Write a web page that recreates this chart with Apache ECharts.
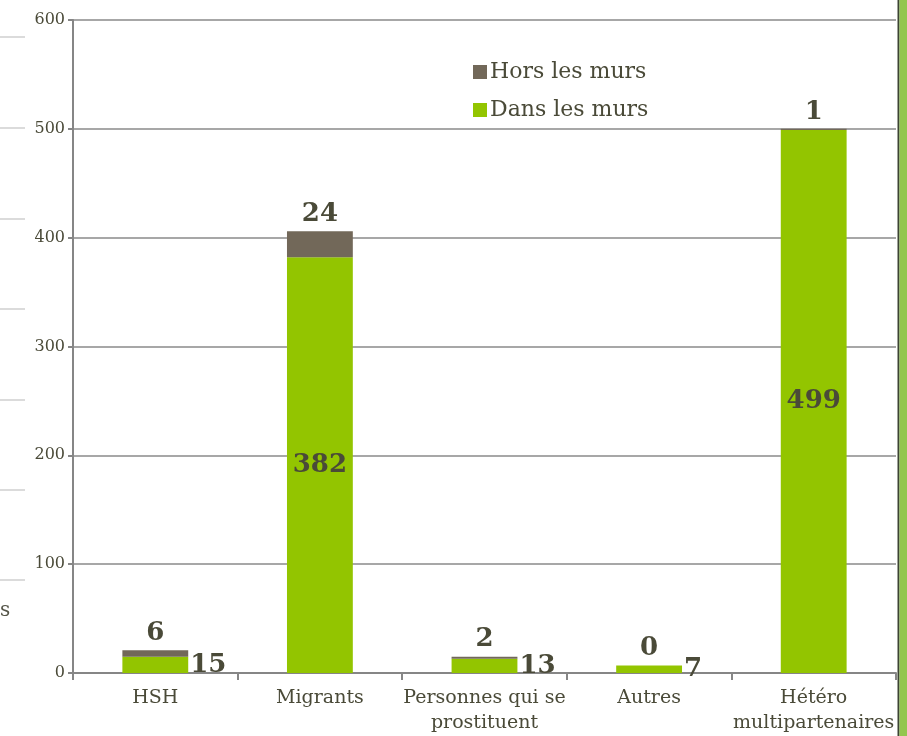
<!DOCTYPE html>
<html>
<head>
<meta charset="utf-8">
<script src="https://cdn.jsdelivr.net/npm/echarts@6/dist/echarts.min.js"></script>
<style>html,body{margin:0;padding:0;background:#fff;}#c{width:907px;height:736px;}</style>
</head>
<body>
<div id="c"></div>
<script>
const categories = ['HSH', 'Migrants', 'Personnes qui se\nprostituent', 'Autres', 'Hétéro\nmultipartenaires'];
const dansLesMurs = [15, 382, 13, 7, 499];
const horsLesMurs = [6, 24, 2, 0, 1];
const seriesNames = ['Dans les murs', 'Hors les murs'];
const yTicks = [0, 100, 200, 300, 400, 500, 600];

const textColor = '#4a4a38';
const serif = 'DejaVu Serif';

const dansData = dansLesMurs.map(v => ({
  value: v,
  label: v > 100 ? { position: 'inside' } : { position: 'right', distance: 2 }
}));

const decoLines = [37, 128, 219, 309, 400, 490, 580].map(y => ({
  type: 'line', shape: { x1: 0, y1: y, x2: 25, y2: y },
  style: { stroke: '#cfcfcf', lineWidth: 1.5 }, silent: true
}));

const chart = echarts.init(document.getElementById('c'), null, { renderer: 'canvas' });
chart.setOption({
  animation: false,
  backgroundColor: '#ffffff',
  grid: { left: 73, right: 11, top: 20, bottom: 63, containLabel: false },
  legend: {
    orient: 'vertical',
    left: 468, top: 55,
    itemWidth: 14, itemHeight: 14, itemGap: 14,
    data: ['Hors les murs', 'Dans les murs'],
    icon: 'rect',
    textStyle: { fontFamily: serif, fontSize: 22, color: textColor, lineHeight: 24, padding: [0, 0, 0, -2] }
  },
  xAxis: {
    type: 'category',
    data: categories,
    axisLine: { lineStyle: { color: '#868686', width: 2 } },
    axisTick: { show: true, length: 7, lineStyle: { color: '#868686', width: 2 } },
    axisLabel: { fontFamily: serif, fontSize: 19, color: textColor, lineHeight: 25, margin: 13, interval: 0 }
  },
  yAxis: {
    type: 'value',
    min: 0, max: 600, interval: 100,
    axisLine: { show: true, lineStyle: { color: '#868686', width: 2 } },
    axisTick: { show: true, length: 5, lineStyle: { color: '#868686', width: 2 } },
    axisLabel: {
      fontFamily: serif, fontSize: 16, color: textColor, margin: 8,
      formatter: v => (yTicks.indexOf(v) >= 0 ? String(v) : '')
    },
    splitLine: { show: true, lineStyle: { color: '#8a8a8a', width: 1.5 } }
  },
  series: [
    {
      name: seriesNames[0], type: 'bar', stack: 'total', barWidth: '40%',
      itemStyle: { color: '#93c500' },
      label: { show: true, fontFamily: serif, fontWeight: 'bold', fontSize: 26, color: textColor },
      data: dansData
    },
    {
      name: seriesNames[1], type: 'bar', stack: 'total', barWidth: '40%',
      itemStyle: { color: '#726859' },
      label: { show: true, position: 'top', distance: 4, fontFamily: serif, fontWeight: 'bold', fontSize: 26, color: textColor },
      data: horsLesMurs
    }
  ],
  graphic: decoLines.concat([
    { type: 'text', left: 0, top: 601, style: { text: 's', fontFamily: serif, fontSize: 20, fill: '#555548' }, silent: true },
    { type: 'rect', shape: { x: 897.5, y: 0, width: 2, height: 736 }, style: { fill: '#3d4433' }, silent: true },
    { type: 'rect', shape: { x: 899.5, y: 0, width: 8, height: 736 }, style: { fill: '#93c64e' }, silent: true }
  ])
});
</script>
</body>
</html>
